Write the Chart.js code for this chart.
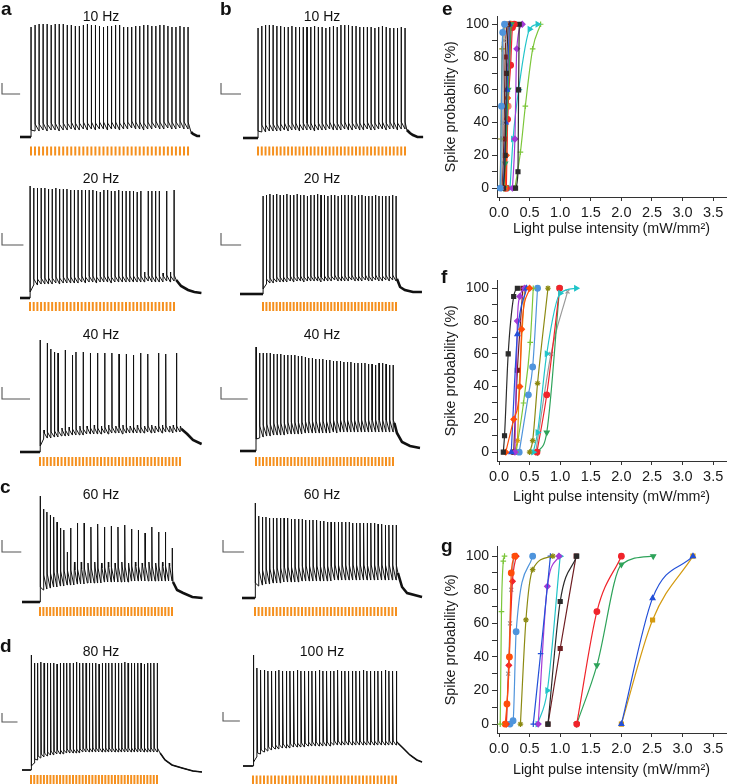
<!DOCTYPE html>
<html><head><meta charset="utf-8">
<script src="https://cdn.jsdelivr.net/npm/chart.js@4.4.1/dist/chart.umd.min.js"></script>
<style>
html,body{margin:0;padding:0;background:#fff;width:733px;height:784px;overflow:hidden;}
#fig{position:relative;width:733px;height:784px;font-family:"Liberation Sans",Arial,Helvetica,sans-serif;color:#111;}
#fig canvas{position:absolute;}
.lbl{position:absolute;font-weight:bold;font-size:19px;line-height:19px;z-index:5;}
.hz{position:absolute;font-size:14px;line-height:14px;width:80px;text-align:center;z-index:5;}
</style></head><body><div id="fig"></div>
<script>
// ================= DATA =================
const REST_MV = -70;
const PULSES = 40;
const freqs = {a10:10, b10:10, a20:20, b20:20, a40:40, b40:40, c60:60, b60:60, d80:80, b100:100};

// spike peak (mV) for each light pulse; strongly negative values = subthreshold responses (failures)
const peaks10a = [40,42,43,43,43,42,43,43,43,42, 42,41,41,42,43,42,42,41,40,41, 41,42,42,40,40,40,41,41,42,42, 41,41,42,42,41,40,40,41,40,40];
const troughs10a = [-70,-64,-64,-63,-64,-63,-63,-64,-63,-63, -62,-63,-63,-62,-63,-62,-63,-62,-62,-63, -62,-62,-63,-62,-62,-61,-62,-62,-63,-62, -62,-61,-62,-62,-61,-62,-62,-61,-62,-62];
const peaks10b = [40,42,43,43,43,42,42,41,41,42, 41,41,41,41,41,42,41,41,40,41, 42,41,43,43,43,42,42,41,41,41, 41,40,41,42,41,40,40,40,41,40];
const troughs10b = [-70,-64,-64,-63,-63,-63,-63,-62,-63,-62, -62,-63,-62,-62,-62,-63,-62,-62,-62,-61, -62,-62,-62,-61,-62,-62,-61,-62,-62,-61, -62,-62,-61,-61,-62,-61,-61,-62,-61,-61];
const peaks20a = [42,40,40,40,40,39,39,40,39,39, 39,38,38,38,38,38,38,38,37,36, 38,38,37,37,38,37,37,37,37,36, 37,-44,37,37,37,37,-45,37,-44,38];
const troughs20a = [-70,-57,-57,-56,-56,-56,-56,-55,-56,-55, -55,-55,-55,-55,-54,-55,-54,-54,-55,-54, -54,-54,-55,-54,-54,-54,-54,-54,-54,-54, -54,-54,-53,-54,-54,-54,-54,-53,-54,-53];
const peaks20b = [28,29,30,29,30,29,29,30,29,29, 30,29,29,28,29,29,30,29,29,28, 29,29,28,29,29,29,29,28,29,29, 28,28,28,29,28,28,28,28,29,28];
const troughs20b = [-70,-60,-59,-59,-58,-58,-58,-58,-57,-58, -57,-57,-58,-57,-57,-57,-57,-58,-57,-57, -57,-56,-57,-57,-57,-57,-56,-57,-57,-57, -56,-57,-57,-56,-57,-57,-56,-57,-56,-57];
const peaks40a = [42,-48,39,33,30,29,-46,32,-45,27, 30,-44,30,-44,29,-43,29,-44,29,-43, 29,-44,28,-43,28,-44,27,-43,29,-44, 28,-43,-44,29,-43,28,-44,-43,29,-44];
const troughs40a = [-70,-57,-56,-56,-55,-55,-54,-54,-54,-53, -53,-53,-53,-52,-52,-52,-52,-52,-51,-52, -51,-51,-51,-52,-51,-51,-51,-51,-51,-51, -50,-51,-51,-50,-51,-50,-50,-51,-50,-50];
const peaks40b = [34,28,28,28,28,27,27,27,26,26, 26,26,25,25,24,23,23,22,22,22, 21,21,20,20,20,19,19,19,18,18, 18,18,17,17,16,18,18,17,16,16];
const troughs40b = [-70,-57,-56,-55,-55,-54,-54,-54,-54,-53, -53,-53,-53,-53,-52,-52,-52,-52,-52,-52, -52,-52,-51,-52,-51,-51,-51,-51,-51,-51, -51,-51,-51,-51,-51,-51,-51,-51,-51,-51];
const peaks60c = [36,23,20,17,15,10,4,2,-20,4, -30,9,-30,9,-31,5,-30,8,-31,5, -30,6,-31,5,-30,7,-31,3,-30,2, -31,-1,-30,5,-31,0,-30,0,-31,-16];
const troughs60c = [-70,-58,-57,-56,-55,-55,-54,-54,-53,-53, -53,-52,-52,-52,-51,-51,-51,-51,-51,-50, -50,-50,-50,-50,-50,-50,-50,-49,-49,-49, -49,-49,-49,-49,-49,-49,-49,-49,-49,-49];
const peaks60b = [25,12,11,11,10,10,10,10,10,10, 9,9,9,9,8,8,8,8,7,7, 6,6,6,6,6,6,6,5,5,5, 5,5,5,5,4,4,3,3,3,3];
const troughs60b = [-70,-58,-57,-56,-56,-55,-55,-55,-54,-54, -54,-54,-54,-53,-53,-53,-53,-53,-53,-53, -53,-53,-52,-52,-52,-52,-52,-52,-52,-52, -52,-52,-52,-52,-52,-52,-52,-52,-52,-52];
const peaks80d = [45,37,37,38,37,37,37,37,36,37, 37,37,37,37,38,37,37,37,37,37, 37,36,37,37,37,37,37,37,37,38, 37,37,37,37,37,36,37,37,37,37];
const troughs80d = [-70,-63,-60,-58,-57,-56,-55,-55,-54,-54, -54,-53,-53,-53,-53,-53,-52,-52,-52,-52, -52,-52,-52,-52,-52,-52,-52,-52,-52,-52, -52,-52,-52,-52,-52,-52,-52,-52,-52,-52];
const peaks100b = [41,28,26,26,25,25,25,26,25,25, 25,25,26,25,25,25,25,25,26,25, 25,25,25,26,25,25,25,25,25,25, 26,25,25,25,25,25,26,25,25,25];
const troughs100b = [-70,-61,-58,-56,-55,-54,-53,-53,-52,-52, -52,-51,-51,-51,-51,-50,-50,-50,-50,-50, -50,-50,-49,-49,-49,-49,-49,-49,-49,-49, -49,-49,-49,-49,-49,-49,-49,-49,-49,-49];

// recovery after the train: [ms after last pulse, mV]
const post10a = [[75,-65],[125,-67],[225,-69],[300,-69]];
const post10b = [[50,-62],[130,-65],[210,-67],[330,-69],[480,-69]];
const post20a = [[30,-52],[95,-58],[190,-62],[275,-64],[370,-65]];
const post20b = [[15,-55],[60,-63],[130,-66],[250,-68],[380,-68]];
const post40a = [[10,-47],[50,-52],[90,-58],[150,-62]];
const post40b = [[10,-42],[28,-52],[64,-61],[121,-65],[192,-67]];
const post60c = [[5,-50],[25,-58],[55,-61],[100,-65],[150,-66]];
const post60b = [[9,-45],[28,-59],[51,-65],[120,-69]];
const post80d = [[12,-53],[31,-60],[58,-65],[97,-68],[139,-71],[174,-72]];
const post100b = [[5,-47],[19,-52],[38,-59],[57,-64],[71,-66]];

// level reached right after each spike, relative to the trough (mV)
const humps = {a10:7, b10:7, a20:6, b20:5, a40:6, b40:12, c60:15, b60:15, d80:4, b100:4};
// scale bars: [mV, ms]
const scaleBars = {a10:[11,450], b10:[11,530], a20:[12,290], b20:[12,295], a40:[12,195], b40:[12,190], c60:[12,95], b60:[12,97], d80:[9,60], b100:[9,46]};
const hzTitles = {a10:'10 Hz', b10:'10 Hz', a20:'20 Hz', b20:'20 Hz', a40:'40 Hz', b40:'40 Hz', c60:'60 Hz', b60:'60 Hz', d80:'80 Hz', b100:'100 Hz'};

// spike probability (%) vs light pulse intensity (mW/mm2)
const eX = [[0.02,0.04,0.06,0.09],[0.02,0.03,0.05,0.1],[0.04,0.06,0.08,0.12],[0.05,0.08,0.1,0.13],[0.07,0.1,0.12,0.15],[0.07,0.11,0.13,0.17],[0.08,0.1,0.15,0.2],[0.1,0.12,0.14,0.19],[0.1,0.13,0.18],[0.12,0.14,0.19,0.22,0.25],[0.11,0.15,0.2],[0.27,0.31,0.32,0.33],[0.22,0.26,0.29,0.38],[0.18,0.23,0.32,0.5,0.63],[0.26,0.35,0.43,0.55,0.68]];
const eY = [[0,50,95,100],[0,30,85,100],[0,40,90,100],[0,30,80,100],[0,20,70,100],[0,40,60,100],[0,15,60,100],[0,20,55,100],[0,50,100],[0,42,75,98,100],[0,50,100],[0,10,60,100],[0,30,85,100],[0,30,60,97,100],[0,22,50,85,100]];
const fX = [[0.07,0.09,0.15,0.24,0.3],[0.11,0.24,0.34,0.37,0.5],[0.2,0.3,0.45],[0.26,0.3,0.34,0.42],[0.24,0.3,0.39],[0.22,0.3,0.33,0.42],[0.28,0.4,0.51,0.56],[0.33,0.48,0.55,0.63],[0.5,0.55,0.63,0.8],[0.56,0.63,0.78,1.0,1.26],[0.62,0.78,0.99],[0.63,0.78,0.99],[0.6,0.85,1.12]];
const fY = [[0,10,60,95,100],[0,20,40,75,100],[0,72,100],[0,80,95,100],[0,50,100],[0,7,40,100],[0,30,67,100],[0,35,52,100],[0,7,42,100],[0,12,60,97,100],[0,35,100],[0,12,100],[0,60,98]];
const gX = [[0.02,0.04,0.07,0.09],[0.1,0.13,0.17,0.2,0.26],[0.12,0.16,0.22,0.28],[0.12,0.15,0.18,0.2,0.24],[0.18,0.23,0.28,0.55],[0.35,0.44,0.55,0.88],[0.56,0.68,0.84],[0.64,0.79,0.98],[0.63,0.79,1.0],[0.8,1.0,1.27],[0.8,1.0,1.26],[1.27,1.6,2.0],[1.27,1.6,2.0,2.52],[2.0,2.51,3.17],[2.0,2.51,3.17]];
const gY = [[0,67,97,100],[0,12,40,90,100],[0,35,85,100],[0,30,60,80,100],[0,2,55,100],[0,62,92,100],[0,42,100],[0,82,100],[0,20,100],[0,73,100],[0,45,100],[0,67,100],[0,35,95,100],[0,75,100],[0,62,100]];
const xTickValues = [0,0.5,1,1.5,2,2.5,3,3.5];
const yTickValues = [0,10,20,30,40,50,60,70,80,90,100];

// ================= STYLES / LAYOUT =================
const palette = {k:'#2b2b2b', r:'#f0242b', b:'#2350d8', g:'#2ea35a', p:'#a43ad6', c:'#21c4c9', o:'#8c8a12', br:'#6e1e22', or:'#ff4d0a', lb:'#4f94dc', lg:'#7cc63a', gr:'#9a9a9a', gd:'#d49a10', pk:'#f08080'};
const eStyle = [['lb','circle'],['o','cross'],['gr','crossRot'],['br','rect'],['k','rect'],['b','triangle'],['g','triangle',180],['or','rectRot'],['gd','rect'],['r','circle'],['pk','circle'],['k','rect'],['p','rectRot'],['c','triangle',90],['lg','cross']];
const fStyle = [['k','rect'],['or','rectRot'],['b','triangle'],['p','rectRot'],['br','rect'],['gd','star'],['lg','cross'],['lb','circle'],['o','star'],['c','triangle',90],['r','circle'],['g','triangle',180],['gr','crossRot']];
const gStyle = [['lg','cross'],['or','circle'],['r','rectRot'],['gr','crossRot'],['lb','circle'],['o','star'],['b','cross'],['p','rectRot'],['c','triangle',90],['k','rect'],['br','rect'],['r','circle'],['g','triangle',180],['b','triangle'],['gd','rect']];

const traceData = {
  a10:{peaks:peaks10a, troughs:troughs10a, post:post10a}, b10:{peaks:peaks10b, troughs:troughs10b, post:post10b},
  a20:{peaks:peaks20a, troughs:troughs20a, post:post20a}, b20:{peaks:peaks20b, troughs:troughs20b, post:post20b},
  a40:{peaks:peaks40a, troughs:troughs40a, post:post40a}, b40:{peaks:peaks40b, troughs:troughs40b, post:post40b},
  c60:{peaks:peaks60c, troughs:troughs60c, post:post60c}, b60:{peaks:peaks60b, troughs:troughs60b, post:post60b},
  d80:{peaks:peaks80d, troughs:troughs80d, post:post80d}, b100:{peaks:peaks100b, troughs:troughs100b, post:post100b}
};
// pixel layout of each trace panel
const traceLayout = {
  a10:{left:0,top:18,width:216,height:144,restPx:137,p0:31,p1:188,stimPx:151,prePx:20,sbX:2,sbY:94,hzX:101,hzTop:9,baseW:2.6},
  b10:{left:218,top:18,width:215,height:144,restPx:138,p0:258,p1:405,stimPx:151,prePx:243,sbX:221,sbY:94,hzX:322,hzTop:9,baseW:2.6},
  a20:{left:0,top:178,width:216,height:140,restPx:298,p0:30,p1:174,stimPx:306.5,prePx:20,sbX:2,sbY:245,hzX:101,hzTop:171,baseW:2.6},
  b20:{left:218,top:178,width:215,height:140,restPx:294,p0:263,p1:396,stimPx:306.5,prePx:240,sbX:221,sbY:245,hzX:322,hzTop:171,baseW:2.6},
  a40:{left:0,top:332,width:216,height:140,restPx:452,p0:40,p1:180,stimPx:461.5,prePx:20,sbX:2,sbY:399,hzX:101,hzTop:327,baseW:2.6},
  b40:{left:218,top:332,width:215,height:140,restPx:451,p0:256,p1:393,stimPx:461.5,prePx:240,sbX:221,sbY:399,hzX:322,hzTop:327,baseW:2.6},
  c60:{left:0,top:488,width:216,height:134,restPx:602,p0:40,p1:172,stimPx:611.5,prePx:22,sbX:2,sbY:552,hzX:101,hzTop:487,baseW:2.6},
  b60:{left:218,top:488,width:215,height:134,restPx:598,p0:255,p1:396,stimPx:611.5,prePx:242,sbX:223,sbY:552,hzX:322,hzTop:487,baseW:2.6},
  d80:{left:0,top:648,width:216,height:136,restPx:770,p0:31,p1:157,stimPx:779.5,prePx:22,sbX:2,sbY:722,hzX:101,hzTop:644,baseW:1.6},
  b100:{left:218,top:648,width:215,height:136,restPx:766,p0:253,p1:396,stimPx:780,prePx:243,sbX:223,sbY:721,hzX:322,hzTop:644,baseW:1.6}
};
const panelLetters = [['a',1,-1],['b',220,-1],['c',0,477],['d',0,636],['e',442,-1],['f',441,267],['g',441,536]];

// ================= DRAW =================
Chart.defaults.font.family = '"Liberation Sans", Arial, Helvetica, sans-serif';
Chart.defaults.color = '#1a1a1a';
const fig = document.getElementById('fig');

function addCanvas(left, top, width, height) {
  const c = document.createElement('canvas');
  c.width = width; c.height = height;
  c.style.left = left + 'px'; c.style.top = top + 'px';
  c.style.width = width + 'px'; c.style.height = height + 'px';
  fig.appendChild(c);
  return c;
}
function addText(cls, text, left, top) {
  const d = document.createElement('div');
  d.className = cls; d.textContent = text;
  d.style.left = left + 'px'; d.style.top = top + 'px';
  fig.appendChild(d);
}

function traceChart(key) {
  const d = traceData[key], L = traceLayout[key];
  const T = 1000 / freqs[key];
  const pxPerMs = (L.p1 - L.p0) / ((PULSES - 1) * T);
  const toX = px => (px - L.p0) / pxPerMs;
  const toY = py => REST_MV + (L.restPx - py);
  const hump = humps[key];
  const main = [{x: toX(L.prePx), y: REST_MV}];
  for (let i = 0; i < PULSES; i++) {
    const t = i * T, base = d.troughs[i], pk = d.peaks[i];
    const spike = pk > -25;
    main.push({x: t, y: base});
    main.push({x: t + (spike ? 0.6 : 3), y: pk});
    main.push({x: t + (spike ? 2.5 : 5), y: Math.min(pk, base + hump)});
  }
  const tLast = (PULSES - 1) * T;
  const post = d.post.map(([dt, v]) => ({x: tLast + dt, y: v}));
  post.forEach(p => main.push(p));
  const pre = [{x: toX(L.prePx), y: REST_MV}, {x: -0.3, y: REST_MV}];
  const stimY = toY(L.stimPx);
  const stim = Array.from({length: PULSES}, (_, i) => ({x: i * T, y: stimY}));
  const [sbMv, sbMs] = scaleBars[key];
  const sx = toX(L.sbX), sy = toY(L.sbY);
  const sb = [{x: sx, y: sy + sbMv}, {x: sx, y: sy}, {x: sx + sbMs, y: sy}];
  const canvas = addCanvas(L.left, L.top, L.width, L.height);
  new Chart(canvas, {
    type: 'scatter',
    data: {datasets: [
      {data: pre, showLine: true, borderColor: '#111', borderWidth: L.baseW, pointRadius: 0},
      {data: post, showLine: true, borderColor: '#111', borderWidth: L.baseW, pointRadius: 0},
      {data: main, showLine: true, borderColor: '#111', borderWidth: 1, pointRadius: 0},
      {data: stim, showLine: false, pointStyle: 'line', pointRotation: 90, pointRadius: 4.5, pointBorderWidth: 2, pointBorderColor: '#f5901e', pointBackgroundColor: '#f5901e'},
      {data: sb, showLine: true, borderColor: '#555', borderWidth: 1.1, pointRadius: 0}
    ]},
    options: {
      responsive: false, animation: false, devicePixelRatio: 1, events: [],
      layout: {padding: 0, autoPadding: false},
      plugins: {legend: {display: false}, tooltip: {enabled: false}},
      elements: {line: {tension: 0, borderJoinStyle: 'miter'}},
      scales: {
        x: {type: 'linear', display: false, min: toX(L.left), max: toX(L.left + L.width)},
        y: {type: 'linear', display: false, min: toY(L.top + L.height), max: toY(L.top)}
      }
    }
  });
  addText('hz', hzTitles[key], L.hzX - 40, L.hzTop);
}

function probChart(P) {
  const left = 438, width = 295;
  const height = P.chartBottom + P.xAxisH - P.top;
  const canvas = addCanvas(left, P.top, width, height);
  const datasets = P.xs.map((xs, i) => {
    const [ck, shape, rot] = P.styles[i];
    const col = palette[ck];
    return {
      data: xs.map((x, j) => ({x, y: P.ys[i][j]})),
      showLine: true, borderColor: col, backgroundColor: col, borderWidth: 1.2,
      pointStyle: shape, pointRotation: rot || 0, pointRadius: 2.8,
      pointBorderColor: col, pointBackgroundColor: col, pointBorderWidth: 1.2,
      cubicInterpolationMode: 'monotone'
    };
  });
  new Chart(canvas, {
    type: 'scatter',
    data: {datasets},
    options: {
      responsive: false, animation: false, devicePixelRatio: 1, events: [],
      layout: {padding: {top: P.chartTop - P.top, right: 7, left: 0, bottom: 0}, autoPadding: false},
      plugins: {legend: {display: false}, tooltip: {enabled: false}},
      scales: {
        x: {
          type: 'linear', min: -0.033, max: 3.71,
          afterBuildTicks: s => { s.ticks = xTickValues.map(v => ({value: v})); },
          afterFit: s => { s.height = P.xAxisH; },
          ticks: {callback: v => Number(v).toFixed(1), font: {size: 14.5}, color: '#1a1a1a', padding: 3, maxRotation: 0, autoSkip: false},
          grid: {drawOnChartArea: false, drawTicks: true, tickLength: 4, color: '#333'},
          border: {display: true, color: '#333', width: 1},
          title: {display: true, text: 'Light pulse intensity (mW/mm²)', font: {size: 14.3}, color: '#1a1a1a', padding: {top: 4, bottom: 4}}
        },
        y: {
          type: 'linear', min: P.yMin, max: P.yMax,
          afterBuildTicks: s => { s.ticks = yTickValues.map(v => ({value: v})); },
          afterFit: s => { s.width = 59; },
          ticks: {callback: v => (v % 20 === 0 ? String(v) : ''), font: {size: 14}, color: '#1a1a1a', padding: 3, autoSkip: false},
          grid: {drawOnChartArea: false, drawTicks: true, tickLength: 5, color: '#333'},
          border: {display: true, color: '#333', width: 1},
          title: {display: true, text: 'Spike probability (%)', font: {size: 14.3}, color: '#1a1a1a', padding: {top: 4, bottom: 4}}
        }
      }
    }
  });
}

Object.keys(traceData).forEach(traceChart);
probChart({xs: eX, ys: eY, styles: eStyle, top: 5, chartTop: 13, chartBottom: 197, yMin: -5.4, yMax: 104.8, xAxisH: 45});
probChart({xs: fX, ys: fY, styles: fStyle, top: 269, chartTop: 277, chartBottom: 461, yMin: -5.4, yMax: 104.8, xAxisH: 49});
probChart({xs: gX, ys: gY, styles: gStyle, top: 535, chartTop: 543, chartBottom: 733, yMin: -5.3, yMax: 105.8, xAxisH: 50});
panelLetters.forEach(([t, x, y]) => addText('lbl', t, x, y));
</script></body></html>
